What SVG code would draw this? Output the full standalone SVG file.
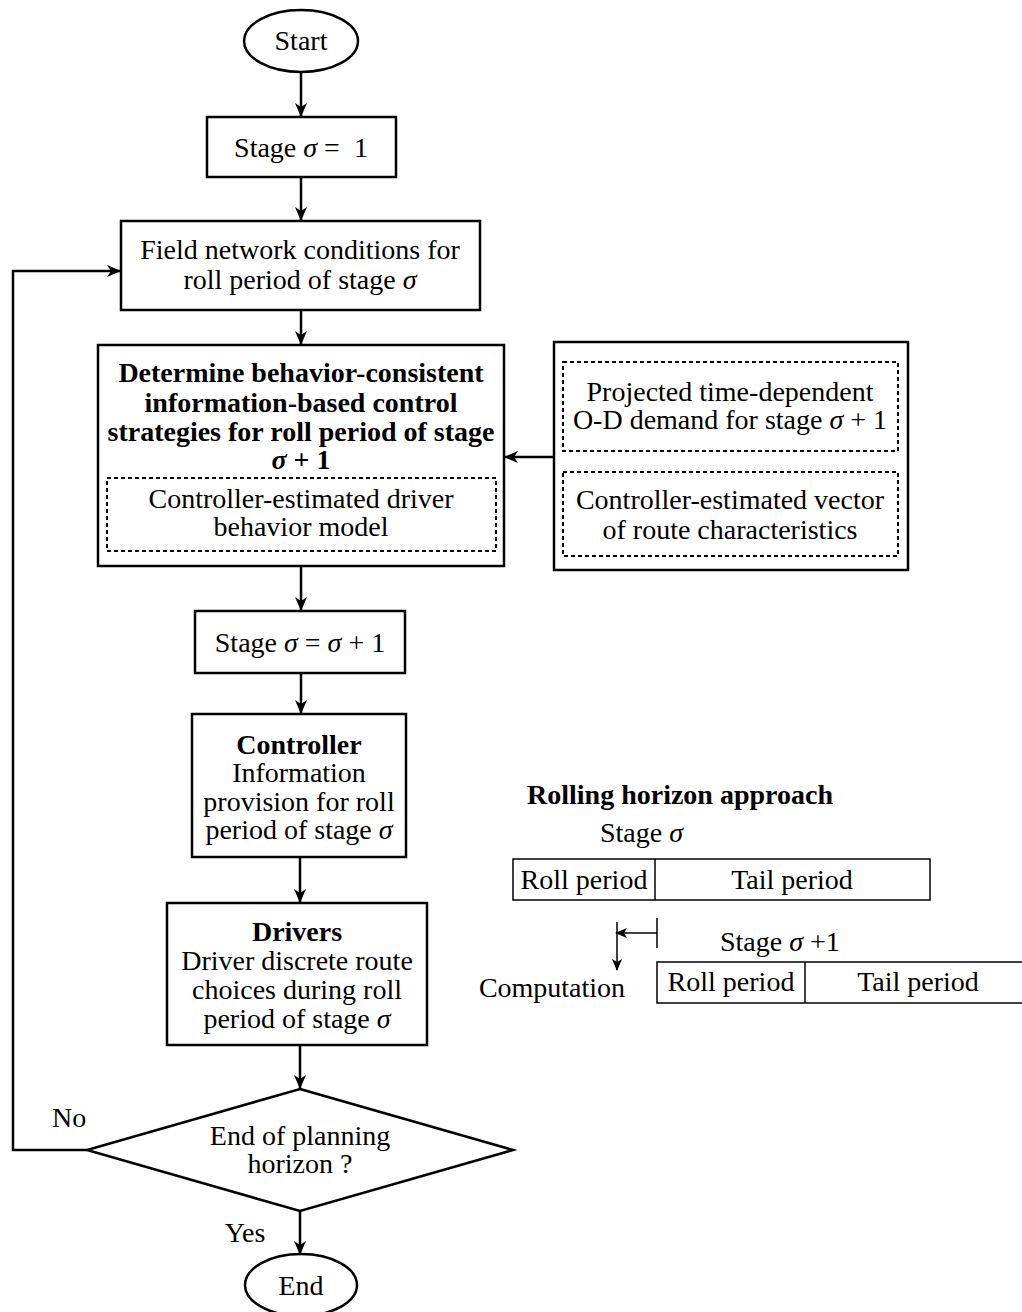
<svg xmlns="http://www.w3.org/2000/svg" width="1022" height="1312" viewBox="0 0 1022 1312">
<defs>
<marker id="ah" markerWidth="14" markerHeight="14" refX="13" refY="7" orient="auto" markerUnits="userSpaceOnUse"><path d="M0,1 L14,7 L0,13 L4,7 z" fill="#000"/></marker>
<marker id="ahs" markerWidth="12" markerHeight="12" refX="11" refY="6" orient="auto" markerUnits="userSpaceOnUse"><path d="M0,1 L12,6 L0,11 L3,6 z" fill="#000"/></marker>
</defs>
<style>
text{font-family:"Liberation Serif","Times New Roman",serif;font-size:28px;fill:#000;text-anchor:middle}
.b{font-weight:bold}
.i{font-style:italic}
.s{text-anchor:start}
.box{fill:#fff;stroke:#000;stroke-width:2.5}
.dash{fill:none;stroke:#000;stroke-width:2;stroke-dasharray:4 3}
.thin{fill:#fff;stroke:#000;stroke-width:1.5}
.conn{fill:none;stroke:#000;stroke-width:2.5;marker-end:url(#ah)}
.tconn{fill:none;stroke:#000;stroke-width:1.5}
</style>
<rect width="1022" height="1312" fill="#fff"/>

<g id="connectors">
<path class="conn" d="M301,72 V116"/>
<path class="conn" d="M301,177 V220"/>
<path class="conn" d="M301,310 V344"/>
<path class="conn" d="M554,457 H505"/>
<path class="conn" d="M301,566 V610"/>
<path class="conn" d="M301,673 V713"/>
<path class="conn" d="M300,857 V902"/>
<path class="conn" d="M300,1045 V1088"/>
<path class="conn" d="M87,1150 H13 V271 H120"/>
<path class="conn" d="M300,1211 V1254"/>
<text class="s" x="52" y="1127">No</text>
<text x="245" y="1242">Yes</text>
</g>

<g id="start">
<ellipse class="box" cx="301" cy="41" rx="57" ry="31"/>
<text x="301" y="50">Start</text>
</g>

<g id="stage1">
<rect class="box" x="207" y="117" width="189" height="60"/>
<text x="301" y="157" xml:space="preserve">Stage <tspan class="i">σ</tspan> =  1</text>
</g>

<g id="field">
<rect class="box" x="121" y="221" width="359" height="89"/>
<text x="300" y="259">Field network conditions for</text>
<text x="300" y="289">roll period of stage <tspan class="i">σ</tspan></text>
</g>

<g id="determine">
<rect class="box" x="98" y="345" width="406" height="221"/>
<text class="b" x="301" y="382">Determine behavior-consistent</text>
<text class="b" x="301" y="412">information-based control</text>
<text class="b" x="301" y="441">strategies for roll period of stage</text>
<text class="b" x="301" y="469"><tspan class="i">σ</tspan> + 1</text>
<rect class="dash" x="107" y="478" width="389" height="73"/>
<text x="301" y="508">Controller-estimated driver</text>
<text x="301" y="536">behavior model</text>
</g>

<g id="inputs">
<rect class="box" x="554" y="342" width="354" height="228"/>
<rect class="dash" x="563" y="362" width="335" height="89"/>
<text x="730" y="401">Projected time-dependent</text>
<text x="730" y="429">O-D demand for stage <tspan class="i">σ</tspan> + 1</text>
<rect class="dash" x="563" y="472" width="335" height="84"/>
<text x="730" y="509">Controller-estimated vector</text>
<text x="730" y="539">of route characteristics</text>
</g>

<g id="stage-next">
<rect class="box" x="195" y="611" width="210" height="62"/>
<text x="300" y="652">Stage <tspan class="i">σ</tspan> = <tspan class="i">σ</tspan> + 1</text>
</g>

<g id="controller">
<rect class="box" x="192" y="714" width="214" height="143"/>
<text class="b" x="299" y="754">Controller</text>
<text x="299" y="782">Information</text>
<text x="299" y="811">provision for roll</text>
<text x="299" y="839">period of stage <tspan class="i">σ</tspan></text>
</g>

<g id="drivers">
<rect class="box" x="167" y="903" width="260" height="142"/>
<text class="b" x="297" y="941">Drivers</text>
<text x="297" y="970">Driver discrete route</text>
<text x="297" y="999">choices during roll</text>
<text x="297" y="1028">period of stage <tspan class="i">σ</tspan></text>
</g>

<g id="decision">
<polygon class="box" points="300,1089 513,1150 300,1211 87,1150"/>
<text x="300" y="1145">End of planning</text>
<text x="300" y="1173">horizon ?</text>
</g>

<g id="end">
<ellipse class="box" cx="301" cy="1285" rx="56" ry="31"/>
<text x="301" y="1295">End</text>
</g>

<g id="rolling">
<text class="b s" x="527" y="804">Rolling horizon approach</text>
<text class="s" x="600" y="842">Stage <tspan class="i">σ</tspan></text>
<rect class="thin" x="513" y="859" width="417" height="41"/>
<line class="tconn" x1="655" y1="859" x2="655" y2="900"/>
<text x="584" y="889">Roll period</text>
<text x="792" y="889">Tail period</text>
<line class="tconn" x1="657" y1="918" x2="657" y2="948"/>
<path class="tconn" d="M657,933 H616" marker-end="url(#ahs)"/>
<path class="tconn" d="M617,922 V970" marker-end="url(#ahs)"/>
<text class="s" x="720" y="951">Stage <tspan class="i">σ</tspan> +1</text>
<text x="552" y="997">Computation</text>
<rect class="thin" x="657" y="962" width="400" height="41"/>
<line class="tconn" x1="805" y1="962" x2="805" y2="1003"/>
<text x="731" y="991">Roll period</text>
<text x="918" y="991">Tail period</text>
</g>
</svg>
